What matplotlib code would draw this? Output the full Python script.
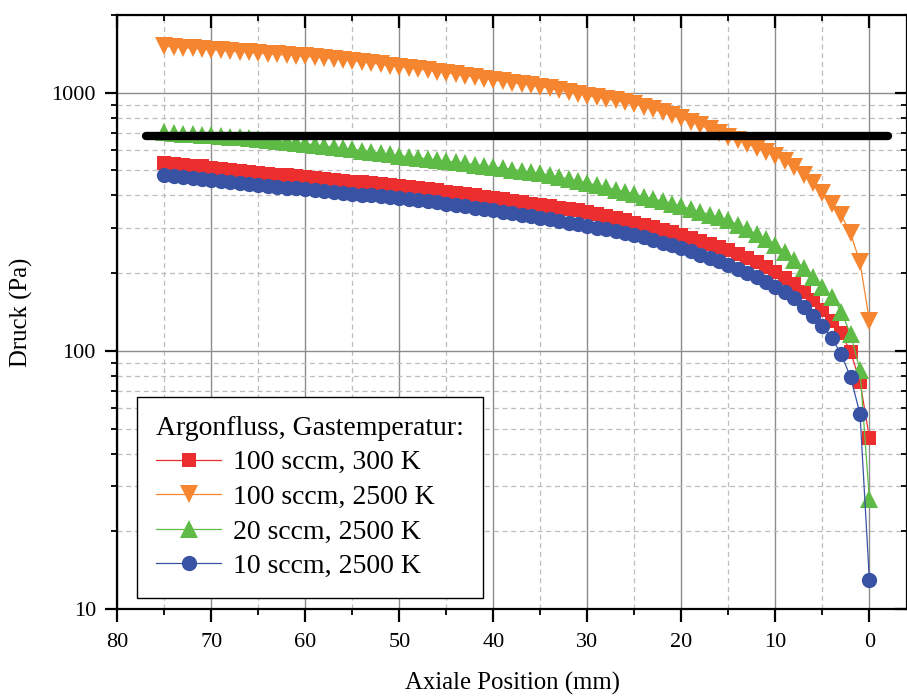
import numpy as np
import matplotlib.pyplot as plt
from matplotlib.ticker import LogLocator, MultipleLocator, NullFormatter

# axial position of every point (mm), 75 down to 0
axial_mm = np.arange(75, -1, -1)

p_100sccm_300K = [
    536, 531, 527, 522, 518, 513,
    508, 504, 499, 495, 490,
    486, 482, 478, 474, 470,
    466, 462, 459, 455, 452,
    449, 446, 443, 440, 437,
    432, 428, 423, 419, 414,
    409, 404, 400, 395, 390,
    386, 381, 377, 372, 368,
    364, 359, 355, 350, 346,
    340, 334, 327, 321, 314,
    308, 301, 294, 288, 281,
    274, 267, 260, 252, 245,
    237, 228, 220, 211, 202,
    192, 181, 169, 157, 144, 131, 117, 99, 76, 46,
]

p_100sccm_2500K = [
    1515, 1505, 1495, 1486, 1477, 1468,
    1459, 1450, 1441, 1432, 1423,
    1415, 1407, 1399, 1391, 1383,
    1373, 1362, 1352, 1341, 1330,
    1316, 1302, 1288, 1274, 1260,
    1247, 1234, 1221, 1208, 1195,
    1180, 1165, 1150, 1135, 1120,
    1107, 1094, 1081, 1068, 1055,
    1039, 1023, 1007, 991, 975,
    961, 947, 933, 919, 905,
    883, 861, 839, 817, 795,
    771, 747, 723, 699, 675,
    654, 633, 612, 591, 570,
    543, 516, 482, 447, 410, 370, 335, 285, 220, 131,
]

p_20sccm_2500K = [
    702, 698, 695, 691, 688, 684,
    680, 676, 672, 667, 663,
    657, 651, 646, 640, 634,
    628, 622, 615, 609, 603,
    597, 590, 584, 577, 571,
    565, 560, 554, 549, 543,
    538, 532, 527, 521, 516,
    510, 504, 499, 493, 487,
    479, 471, 463, 455, 447,
    438, 430, 421, 413, 404,
    396, 388, 380, 371, 363,
    354, 346, 337, 329, 320,
    308, 296, 283, 271, 258,
    242, 225, 209, 194, 177, 162, 142, 116, 84, 26.6,
]

p_10sccm_2500K = [
    480, 476, 472, 468, 464, 460,
    456, 452, 448, 444, 440,
    436, 433, 429, 426, 422,
    419, 416, 412, 409, 406,
    403, 400, 398, 395, 392,
    388, 384, 380, 376, 372,
    368, 364, 359, 355, 351,
    346, 342, 337, 333, 328,
    323, 319, 314, 310, 305,
    300, 296, 291, 286, 281,
    275, 269, 262, 256, 250,
    243, 236, 229, 222, 215,
    208, 200, 193, 185, 177,
    169, 160, 148, 137, 125, 112, 97, 79, 57, 12.9,
]

# horizontal reference level
ref_x = [77, -2]
ref_y = [680, 680]

labels = ['100 sccm, 300 K', '100 sccm, 2500 K', '20 sccm, 2500 K', '10 sccm, 2500 K']
colors = ['#ED2E2E', '#F5862F', '#5DBB46', '#3953A4']
markers = ['s', 'v', '^', 'o']
sizes = [9.8, 13, 13, 11]

plt.rcParams['font.family'] = ['Liberation Serif', 'DejaVu Serif']

fig = plt.figure(figsize=(9.07, 6.98), dpi=100)
ax = fig.add_axes([117.5 / 907, 1 - 609 / 698, (907 - 117.5) / 907, (609 - 15) / 698])

series = [p_100sccm_300K, p_100sccm_2500K, p_20sccm_2500K, p_10sccm_2500K]
for vals, lab, col, mk, ms in zip(series, labels, colors, markers, sizes):
    ax.plot(axial_mm, vals, color=col, lw=0.9, marker=mk, ms=ms,
            markeredgewidth=0, label=lab, zorder=3)

ax.plot(ref_x, ref_y, color='black', lw=6, solid_capstyle='round', zorder=4)

ax.set_yscale('log')
ax.set_xlim(80, -4)
ax.set_ylim(10, 2000)

ax.xaxis.set_major_locator(MultipleLocator(10))
ax.xaxis.set_minor_locator(MultipleLocator(5))
ax.yaxis.set_major_locator(LogLocator(base=10))
ax.yaxis.set_minor_locator(LogLocator(base=10, subs=np.arange(2, 10)))
ax.yaxis.set_minor_formatter(NullFormatter())
ax.yaxis.set_major_formatter(plt.FuncFormatter(lambda v, p: f'{v:g}'))

ax.grid(which='major', color='#8c8c8c', lw=1.0, ls='-', zorder=0)
ax.grid(which='minor', color='#bdbdbd', lw=0.9, ls=(0, (4, 3)), zorder=0)
ax.set_axisbelow(True)

for s in ax.spines.values():
    s.set_linewidth(1.6)
    s.set_color('black')

ax.tick_params(which='major', direction='out', length=9, width=1.6, labelsize=16)
ax.tick_params(axis='x', which='major', pad=8.5)
ax.tick_params(axis='y', which='major', pad=6.5)
ax.tick_params(which='minor', direction='out', length=4.5, width=1.3)
ax.tick_params(which='both', top=True, right=True)
# top and right ticks point inwards
for t in ax.xaxis.get_ticklines(minor=False)[1::2] + ax.xaxis.get_ticklines(minor=True)[1::2]:
    t.set_marker(3)
for t in ax.yaxis.get_ticklines(minor=False)[1::2] + ax.yaxis.get_ticklines(minor=True)[1::2]:
    t.set_marker(0)

ax.set_xlabel('Axiale Position (mm)', fontsize=17.8, labelpad=14)
ax.set_ylabel('Druck (Pa)', fontsize=17.8, labelpad=13)

leg = ax.legend(title='Argonfluss, Gastemperatur:', loc='lower left',
                bbox_to_anchor=(0.025, 0.0185), fontsize=20, title_fontsize=20,
                frameon=True, fancybox=False, edgecolor='black', framealpha=1,
                handlelength=2.34, handletextpad=0.43, labelspacing=0.33,
                borderpad=0.68, borderaxespad=0)
leg.get_frame().set_linewidth(1.0)
leg._legend_box.align = 'left'

fig.savefig('out.png', dpi=100)
